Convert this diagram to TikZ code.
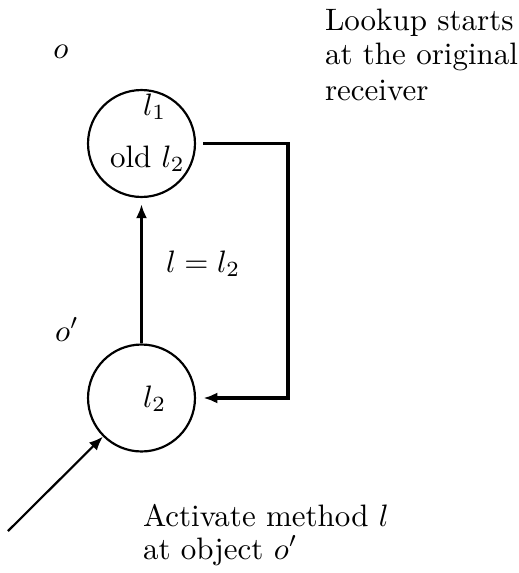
\documentclass[tikz,border=0pt]{standalone}
\usetikzlibrary{arrows.meta}
\begin{document}
\begin{tikzpicture}[x=0.3226pt,y=-0.3226pt,
  state/.style={circle,draw,line width=0.7pt,minimum size=34.5pt,inner sep=0pt},
  txt/.style={anchor=base west,inner sep=0pt,outer sep=0pt},
  conn/.style={line width=1.1pt,-{Latex[length=4.5pt,width=3.6pt]}},
  thinconn/.style={line width=0.7pt,-{Latex[length=4.5pt,width=3.6pt]}}]
\useasboundingbox (0,0) rectangle (519,573);
\node[state] (top) at (141.5,143.5) {};
\node[state] (bot) at (141.5,398) {};
\node[txt] (l1) at (143,115) {$l_1$};
\node[txt] (oldl2) at (110,167) {old $l_2$};
\node[txt] (l2) at (143,407) {$l_2$};
\node[anchor=base,inner sep=0pt] (o) at (61,58) {$o$};
\node[txt] (op) at (55,341) {$o'$};
\node[txt] (eq) at (166,272) {$l=l_2$};
\node[txt] (lk1) at (325,31) {Lookup starts};
\node[txt] (lk2) at (325,64) {at the original};
\node[txt] (lk3) at (325,101) {receiver};
\node[txt,align=left] (ac) at (143,559) {Activate method $l$\\[-1.6pt]at object $o'$};
\coordinate (c1) at (288,143.5);
\coordinate (c2) at (288,398);
\coordinate (start) at (8,531);
\draw[conn,shorten >=2pt] (bot.north) -- (top.south);
\draw[conn,shorten <=2.4pt,shorten >=2.4pt] (top.east) -- (c1) -- (c2) -- (bot.east);
\draw[thinconn] (start) -- (bot.225);
\end{tikzpicture}
\end{document}
